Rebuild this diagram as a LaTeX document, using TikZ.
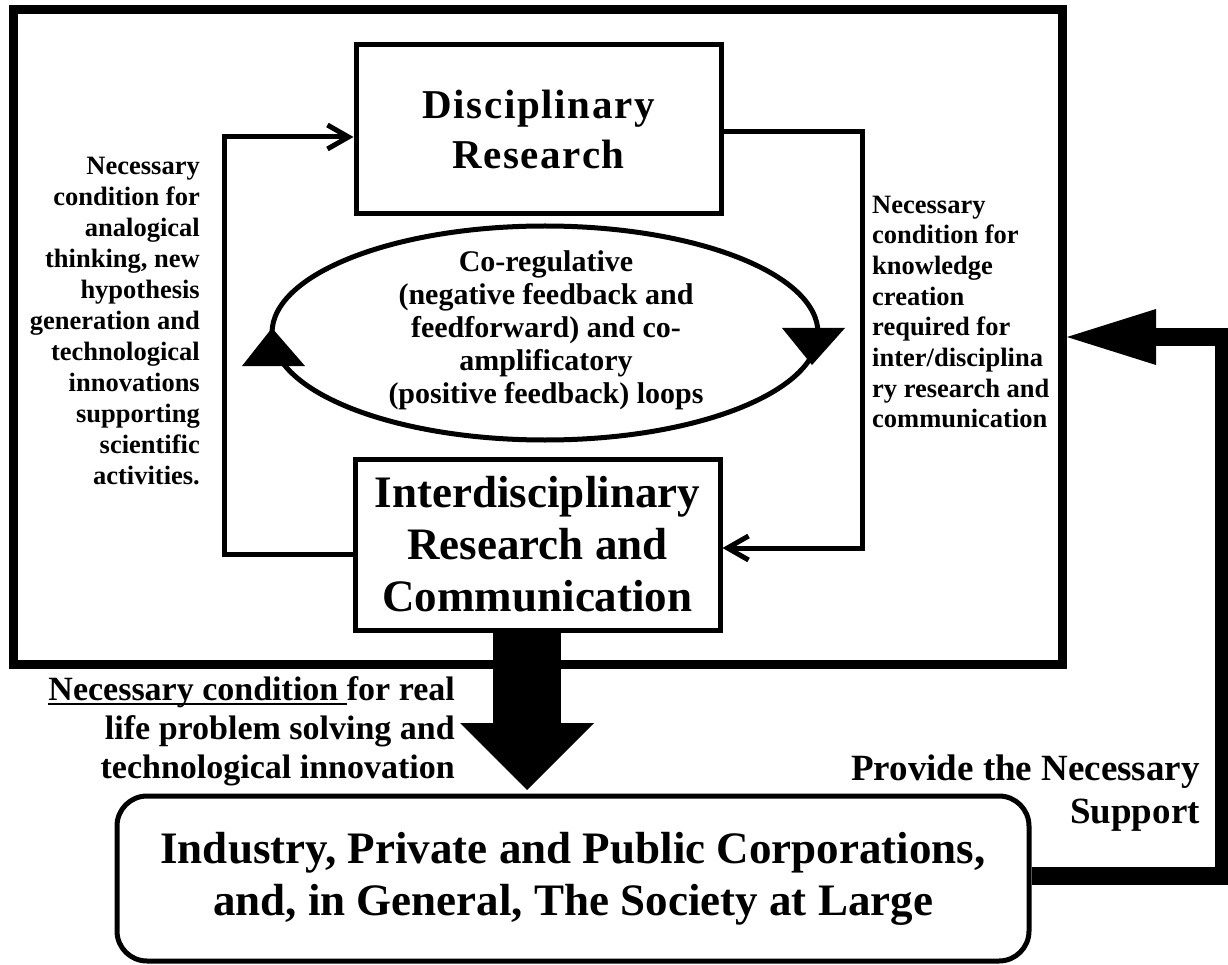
\documentclass[tikz,border=0pt]{standalone}
\usepackage{fontspec}
\setmainfont{Liberation Serif}
\usetikzlibrary{arrows.meta,shapes.geometric}
\newsavebox\ulbox
\newcommand\myul[1]{\sbox\ulbox{#1}\rlap{\rule[-4.5pt]{\wd\ulbox}{1.8pt}}\usebox\ulbox}
\tikzset{
  box/.style={draw, line width=5pt, inner sep=0pt, align=center, fill=white},
  conn/.style={line width=5pt, line join=miter, -{Straight Barb[length=21pt 0 0,width=24pt 0 0]}},
  bigarrow/.style={line width=68pt, -{Triangle[length=67pt 0 0,width=134pt 0 0,line width=0pt 0 0]}},
  support/.style={line width=18pt, line join=miter, -{Triangle[length=89pt 0 0,width=56pt 0 0,line width=0pt 0 0]}},
  label/.style={inner sep=0pt}
}
\begin{document}
\begin{tikzpicture}[x=1pt,y=-1pt]
\useasboundingbox (0,0) rectangle (1228,965);
% outer frame
\node[draw, line width=9pt, minimum width=1049.5pt, minimum height=654pt, inner sep=0pt] (frame) at (537.75,337) {};
% boxes
\node[box, minimum width=365pt, minimum height=169pt,
      font=\bfseries\fontsize{41}{50}\selectfont\addfontfeature{LetterSpace=4}] (disc) at (538.5,129.5) {Disciplinary\\Research};
\node[box, minimum width=365pt, minimum height=171pt,
      font=\bfseries\fontsize{45}{52}\selectfont] (inter) at (537.5,544.5) {Interdisciplinary\\Research and\\Communication};
\node[box, rounded corners=30pt, minimum width=912pt, minimum height=165pt,
      font=\bfseries\fontsize{45}{52}\selectfont] (society) at (573,878.5) {Industry, Private and Public Corporations,\\and, in General, The Society at Large};
% loop ellipse
\draw[line width=5pt] (545,333) ellipse [x radius=273, y radius=107];
\node[label, align=center, font=\bfseries\fontsize{30}{33}\selectfont] (loop) at (546,330) {Co-regulative\\(negative feedback and\\feedforward) and co-\\amplificatory\\(positive feedback) loops};
\fill (272,328) -- (242,366) -- (305,366) -- cycle;
\fill (782,328) -- (845,328) -- (812,365) -- cycle;
% side texts
\node[label, anchor=east, align=right, font=\bfseries\fontsize{26.5}{31}\selectfont] (lefttext) at (200,321)
  {Necessary\\condition for\\analogical\\thinking, new\\hypothesis\\generation and\\technological\\innovations\\supporting\\scientific\\activities.};
\node[label, anchor=west, align=left, font=\bfseries\fontsize{26.5}{30.7}\selectfont] (righttext) at (872,312)
  {Necessary\\condition for\\knowledge\\creation\\required for\\inter/disciplina\\ry research and\\communication};
\node[label, anchor=east, align=right, font=\bfseries\fontsize{34}{39}\selectfont] (neclabel) at (455,731.5)
  {\myul{Necessary condition\ }for real\\life problem solving and\\technological innovation};
\node[label, anchor=east, align=right, font=\bfseries\fontsize{37}{43}\selectfont] (provide) at (1200,793)
  {Provide the Necessary\\Support};
% connectors
\coordinate (lx) at (224,0);
\coordinate (rx) at (862,0);
\coordinate (sx) at (1224,0);
\draw[conn] ([yshift=-9.5pt]inter.west) -| ([yshift=-7.5pt]disc.west -| lx) -- ([yshift=-7.5pt]disc.west);
\draw[conn] ([yshift=-2.5pt]disc.east) -| ([yshift=-3.5pt]inter.east -| rx) -- ([yshift=-3.5pt]inter.east);
\draw[bigarrow] ([xshift=-10.5pt]inter.south) -- ([xshift=-46pt,yshift=3.5pt]society.north);
\draw[support] ([yshift=2.5pt]society.east) -| (sx |- frame.east) -- (frame.east);
\end{tikzpicture}
\end{document}
